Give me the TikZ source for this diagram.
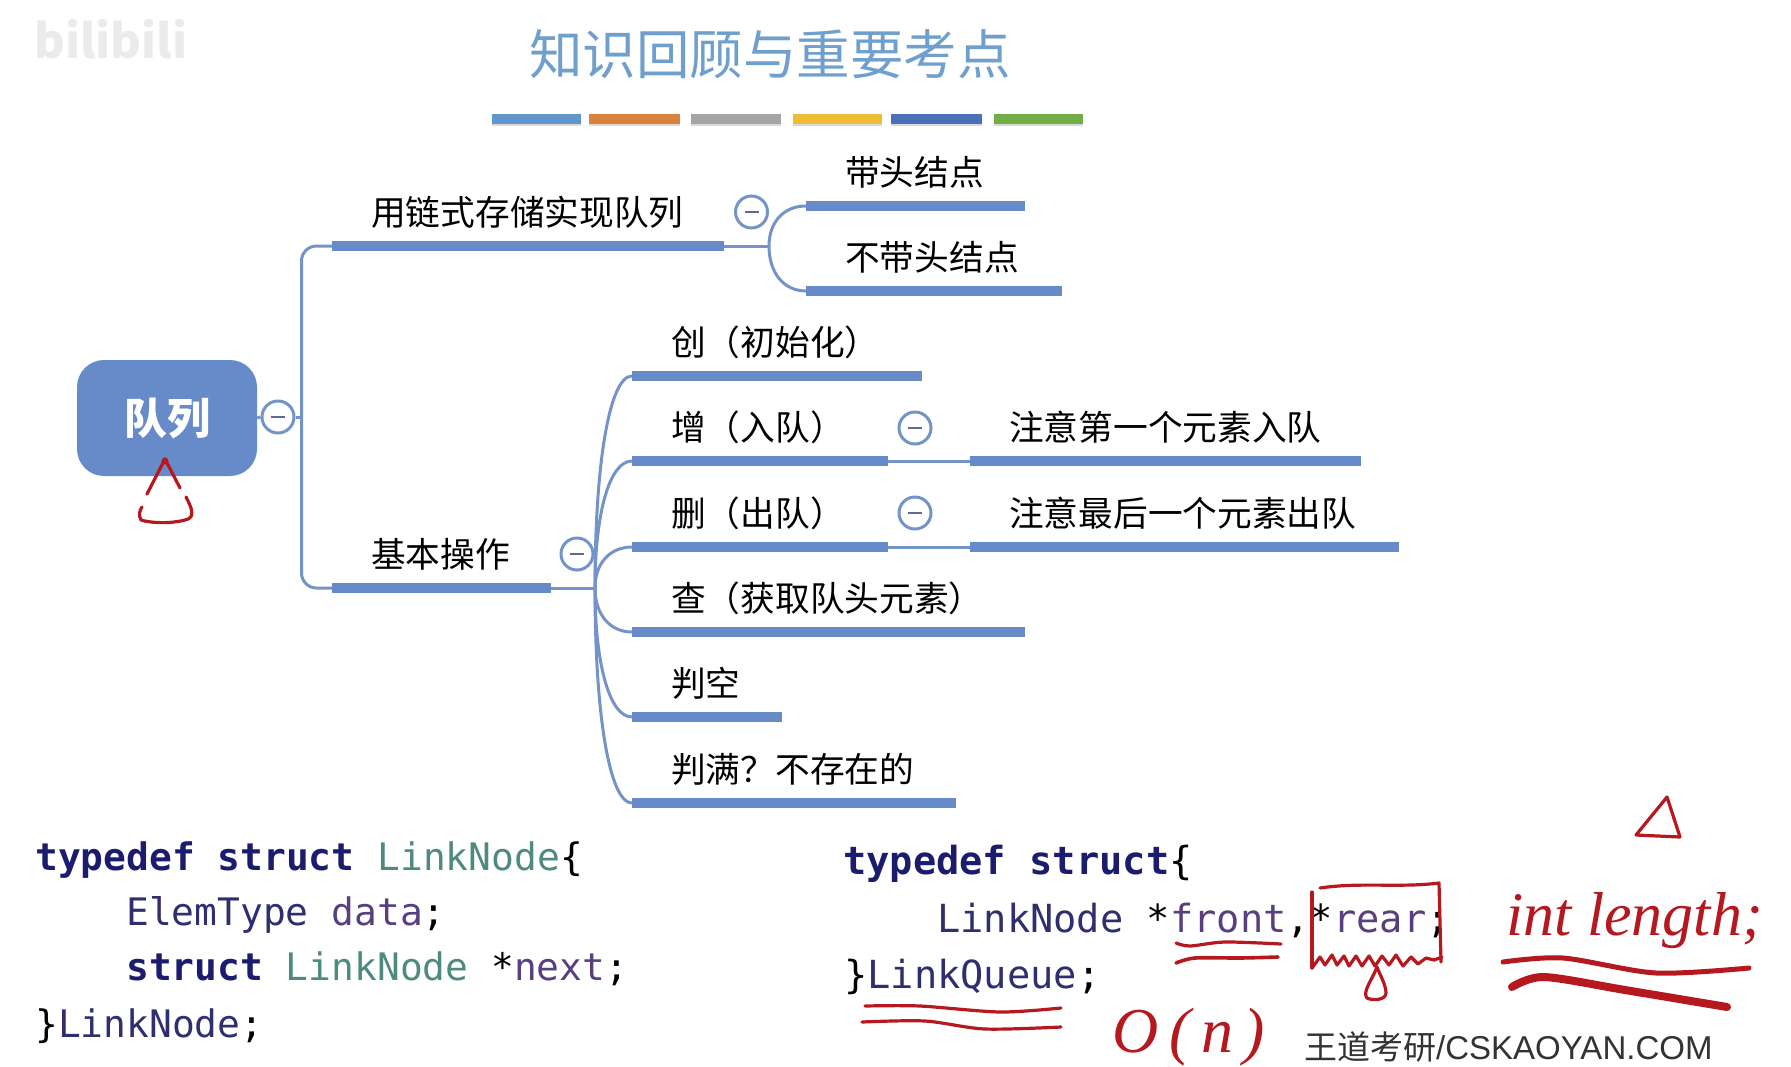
\documentclass[tikz,border=0pt]{standalone}
\usepackage{fontspec}
\usetikzlibrary{calc}
\setmainfont{Noto Sans CJK SC}
\newfontfamily\codefont{DejaVu Sans Mono}
\newfontfamily\markfont{Liberation Sans}
\newfontfamily\handfont{Liberation Serif}
\definecolor{mapblue}{HTML}{668BC8}
\definecolor{linkblue}{HTML}{7493C9}
\definecolor{titleblue}{HTML}{6F9FCC}
\definecolor{inkred}{HTML}{B5181F}
\definecolor{kwnavy}{HTML}{1C1C6E}
\definecolor{typeteal}{HTML}{4F8A80}
\definecolor{idnavy}{HTML}{2F2F70}
\definecolor{fieldpurple}{HTML}{5A3F80}
\newcommand{\kw}[1]{\textcolor{kwnavy}{\bfseries #1}}
\newcommand{\tp}[1]{\textcolor{typeteal}{#1}}
\newcommand{\idn}[1]{\textcolor{idnavy}{#1}}
\newcommand{\fld}[1]{\textcolor{fieldpurple}{#1}}
\newcommand{\zklp}{\symbol{"FF08}}
\newcommand{\zkrp}{\symbol{"FF09}}
\newcommand{\zkq}{\symbol{"FF1F}}
\tikzset{
	topic/.style={anchor=south west,inner xsep=0pt,inner ysep=20pt,text depth=0pt,text width=#1,align=left,
		font=\fontsize{34.7}{40}\selectfont,execute at begin node={\hspace*{39pt}}},
	bar/.style={line width=9.5pt,color=mapblue},
	link/.style={line width=3pt,color=linkblue},
	collapse/.style={circle,draw=linkblue,line width=3pt,fill=white,minimum size=32pt,inner sep=0pt,
		path picture={\draw[line width=2.8pt,color=gray!80!blue] ([xshift=-7pt]path picture bounding box.center) -- ([xshift=7pt]path picture bounding box.center);}},
	codeline/.style={anchor=base west,inner sep=0pt,font=\codefont\fontsize{#1}{44}\selectfont},
	redink/.style={color=inkred,line width=3.2pt,line cap=round,line join=round},
}
\begin{document}
\begin{tikzpicture}[x=1pt,y=-1pt]
	\useasboundingbox (0,0) rectangle (1791,1066);
	% Logo and title
	\node[anchor=base west,inner sep=0pt,color=black!8,font=\bfseries\fontsize{47}{50}\selectfont] (logo) at (34,58) {bilibili};
	\node[color=titleblue,font=\fontsize{53.5}{60}\selectfont,inner sep=0pt] (title) at (770,54) {知识回顾与重要考点};
	% Colour strip
	\foreach \xa/\xb/\col in {492/581/5F97CB,589/680/D9813D,691/781/A5A5A5,793/882/EDBE35,891/982/4A70B8,994/1083/72AD47}{
		\fill[black!15] (\xa,116) rectangle (\xb,126);
		\definecolor{stripcol}{HTML}{\col}
		\fill[stripcol] (\xa,114) rectangle (\xb,124);
	}
	% Root
	\node[fill=mapblue,rounded corners=27pt,minimum width=180pt,minimum height=116pt,inner sep=0pt,text=white,font=\bfseries\fontsize{43}{48}\selectfont] (queue) at (167,418) {队列};
	\node[collapse] (cqueue) at (278,417) {};
	% First level
	\node[topic=392pt] (linked) at (332,246) {用链式存储实现队列};
	\node[topic=219pt] (basic) at (332,588) {基本操作};
	\node[collapse] (clinked) at (751.5,212) {};
	\node[collapse] (cbasic) at (577,554) {};
	% Second level
	\node[topic=219pt] (head) at (806,206) {带头结点};
	\node[topic=256pt] (nohead) at (806,291) {不带头结点};
	\node[topic=290pt] (create) at (632,376) {创\zklp 初始化\zkrp};
	\node[topic=256pt] (enq) at (632,461) {增\zklp 入队\zkrp};
	\node[topic=256pt] (deq) at (632,547) {删\zklp 出队\zkrp};
	\node[topic=393pt] (peek) at (632,632) {查\zklp 获取队头元素\zkrp};
	\node[topic=150pt] (empty) at (632,717) {判空};
	\node[topic=324pt] (full) at (632,803) {判满\zkq 不存在的};
	\node[collapse] (cenq) at (915,428) {};
	\node[collapse] (cdeq) at (915,513) {};
	% Third level
	\node[topic=391pt] (first) at (970,461) {注意第一个元素入队};
	\node[topic=429pt] (last) at (970,547) {注意最后一个元素出队};
	% Bars under the topics
	\foreach \n in {linked,basic,head,nohead,create,enq,deq,peek,empty,full,first,last}
		\draw[bar] (\n.south west) -- (\n.south east);
	% Connectors
	\coordinate (trunk) at (301.5,417);
	\coordinate (forka) at (769,246);
	\coordinate (forkb) at (595,588);
	\draw[link] (queue.east) -- (cqueue.west);
	\draw[link] (cqueue.east) -- (trunk);
	\draw[link,rounded corners=15pt] (trunk) |- (linked.south west);
	\draw[link,rounded corners=15pt] (trunk) |- (basic.south west);
	\draw[link] (linked.south east) -- (forka);
	\foreach \n in {head,nohead}
		\draw[link] (forka) .. controls ($(forka)!.6!(forka |- \n.south west)$) and ($(\n.south west)!.6!(forka |- \n.south west)$) .. (\n.south west);
	\draw[link] (basic.south east) -- (forkb);
	\foreach \n in {create,enq,deq,peek,empty,full}
		\draw[link] (forkb) .. controls ($(forkb)!.6!(forkb |- \n.south west)$) and ($(\n.south west)!.6!(forkb |- \n.south west)$) .. (\n.south west);
	\draw[link] (enq.south east) -- (first.south west);
	\draw[link] (deq.south east) -- (last.south west);
	% Code on the left
	\node[codeline=37.9] (lefta) at (35,870) {\kw{typedef struct} \tp{LinkNode}\{};
	\node[codeline=37.9] (leftb) at (126,925) {\idn{ElemType} \fld{data};};
	\node[codeline=37.9] (leftc) at (126,980) {\kw{struct} \tp{LinkNode} *\fld{next};};
	\node[codeline=37.9] (leftd) at (35,1037) {\}\idn{LinkNode};};
	% Code on the right
	\node[codeline=38.7] (righta) at (843,874) {\kw{typedef struct}\{};
	\node[codeline=38.7] (rightb) at (937,932) {\idn{LinkNode} *\fld{front},*\fld{rear};};
	\node[codeline=38.7] (rightc) at (844,988) {\}\idn{LinkQueue};};
	% Watermark
	\node[anchor=base west,inner sep=0pt,color=black!80,font=\fontsize{33}{36}\selectfont] (mark) at (1304,1059) {王道考研{\markfont /CSKAOYAN.COM}};
	% Handwritten notes
	\node[anchor=base west,inner sep=0pt,color=inkred,font=\handfont\itshape\fontsize{62}{66}\selectfont] (intlen) at (1506,935) {int length;};
	\node[anchor=base west,inner sep=0pt,color=inkred,font=\handfont\itshape\fontsize{64}{68}\selectfont] (bign) at (1112,1052) {O\,(\,n\,)};
	% Triangle under the root
	\draw[redink] (165,459) -- (180,488);
	\draw[redink] (186,497) .. controls (193,510) and (195,518) .. (185,520) .. controls (170,524) and (150,523) .. (141,520) .. controls (138,515) and (140,510) .. (142,507);
	\draw[redink] (147,494) -- (165,459);
	\fill[inkred] (165,461) circle[radius=3.5pt];
	% Triangle over the length
	\draw[redink] (1667,797) -- (1636,835) -- (1680,837) -- cycle;
	% Box round the rear pointer
	\draw[redink] (1320,888) .. controls (1360,882) and (1400,888) .. (1439,883) -- (1441,962);
	\draw[redink] (1312,892) -- (1312,968);
	\draw[redink] plot[sharp plot] coordinates {(1312,968) (1320,957) (1325,965) (1332,955) (1337,965) (1344,956) (1349,966) (1356,956) (1362,966) (1369,956) (1375,966) (1382,956) (1389,965) (1396,955) (1403,966) (1411,957) (1418,964) (1426,958) (1434,960) (1442,957)};
	\draw[redink] (1377,967) .. controls (1372,980) and (1362,992) .. (1367,998) .. controls (1373,1001) and (1386,1000) .. (1386,993) .. controls (1386,985) and (1380,975) .. (1377,967);
	% Underlines
	\draw[redink] plot[smooth] coordinates {(1176,943) (1190,946) (1225,942) (1281,944)};
	\draw[redink,line width=3.6pt] plot[smooth] coordinates {(1176,963) (1195,958) (1240,958) (1278,957)};
	\draw[redink] plot[smooth] coordinates {(865,1006) (920,1006) (1000,1012) (1061,1008)};
	\draw[redink] plot[smooth] coordinates {(862,1022) (925,1021) (985,1029) (1061,1027)};
	\draw[redink,line width=5pt] plot[smooth] coordinates {(1503,962) (1563,958) (1656,973) (1749,968)};
	\draw[redink,line width=8pt] plot[smooth] coordinates {(1512,987) (1544,977) (1625,990) (1727,1007)};
\end{tikzpicture}
\end{document}
